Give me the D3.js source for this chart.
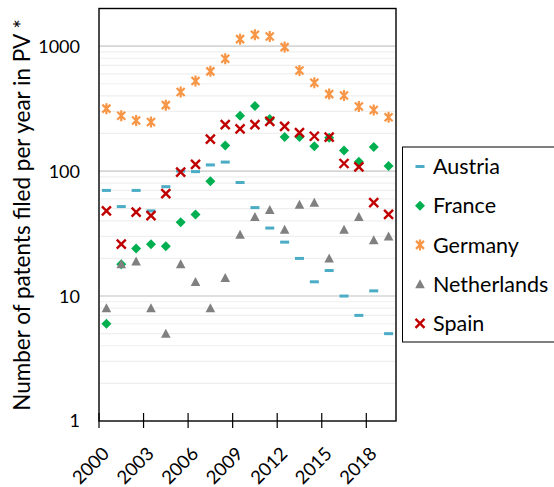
<!DOCTYPE html>
<html>
<head>
<meta charset="utf-8">
<script src="https://cdn.jsdelivr.net/npm/d3@7"></script>
<style>
  html, body { margin: 0; padding: 0; background: #fff; }
  svg { display: block; font-family: Lato, "Open Sans", sans-serif; }
</style>
</head>
<body>
<svg id="chart" width="554" height="487"></svg>
<script>
// Patents filed per year in photovoltaics, by country (log scale)
const years = d3.range(2000, 2020);
const tickYears = [2000, 2003, 2006, 2009, 2012, 2015, 2018];
const yTickValues = [1, 10, 100, 1000];

const austria     = [70, 52, 70, 48, 75, 100, 99, 112, 118, 81, 51, 35, 27, 20, 13, 16, 10, 7, 11, 5];
const france      = [6, 18, 24, 26, 25, 39, 45, 83, 160, 277, 331, 261, 187, 187, 158, 185, 146, 119, 156, 110];
const germany     = [316, 277, 254, 247, 337, 429, 525, 628, 793, 1137, 1233, 1196, 982, 639, 509, 413, 403, 329, 308, 270];
const netherlands = [8, 18, 19, 8, 5, 18, 13, 8, 14, 31, 43, 49, 34, 54, 56, 20, 34, 43, 28, 30];
const spain       = [48, 26, 47, 44, 66, 98, 113, 180, 235, 218, 235, 250, 228, 203, 190, 187, 115, 108, 56, 45];

const seriesNames = ["Austria", "France", "Germany", "Netherlands", "Spain"];
const seriesValues = [austria, france, germany, netherlands, spain];
const seriesColors = ["#4BACC6", "#00B050", "#F79646", "#808080", "#C00000"];

const svg = d3.select("#chart");
const plot = { left: 99, right: 396, top: 8.5, bottom: 421 };

const x = d3.scaleBand().domain(years).range([plot.left, plot.right]).paddingInner(0).paddingOuter(0);
const y = d3.scaleLog().domain([1, 2000]).range([plot.bottom, plot.top]);

// Gridlines: light minor lines for 2..9 of each decade, darker lines at the decades
const minor = [];
[1, 10, 100, 1000].forEach(d => { for (let m = 2; m <= 9; m++) { const v = d * m; if (v < 2000) minor.push(v); } });
svg.append("g").selectAll("line").data(minor).join("line")
  .attr("x1", plot.left).attr("x2", plot.right)
  .attr("y1", d => y(d)).attr("y2", d => y(d))
  .attr("stroke", "#efefef").attr("stroke-width", 1.2);
svg.append("g").selectAll("line").data([10, 100, 1000]).join("line")
  .attr("x1", plot.left).attr("x2", plot.right)
  .attr("y1", d => y(d)).attr("y2", d => y(d))
  .attr("stroke", "#d6d6d6").attr("stroke-width", 1.6);

// Markers
function drawMarker(g, name, color) {
  if (name === "Austria") {
    g.append("rect").attr("x", -4.5).attr("y", -1.5).attr("width", 9).attr("height", 3).attr("fill", color);
  } else if (name === "France") {
    g.append("path").attr("d", "M0,-5L5,0L0,5L-5,0Z").attr("fill", color);
  } else if (name === "Germany") {
    g.append("path").attr("d", "M-4,-4L4,4M-4,4L4,-4M0,-5.5L0,5.5")
      .attr("stroke", color).attr("stroke-width", 2.2).attr("fill", "none");
  } else if (name === "Netherlands") {
    g.append("path").attr("d", "M0,-4.8L4.8,4.2L-4.8,4.2Z").attr("fill", color);
  } else {
    g.append("path").attr("d", "M-4.5,-4.5L4.5,4.5M-4.5,4.5L4.5,-4.5")
      .attr("stroke", color).attr("stroke-width", 2.4).attr("fill", "none");
  }
}

const half = x.bandwidth() / 2;
seriesNames.forEach((name, si) => {
  const g = svg.append("g");
  seriesValues[si].forEach((v, i) => {
    const m = g.append("g").attr("transform", `translate(${x(years[i]) + half},${y(v)})`);
    drawMarker(m, name, seriesColors[si]);
  });
});

// Plot frame
svg.append("rect")
  .attr("x", plot.left).attr("y", plot.top)
  .attr("width", plot.right - plot.left).attr("height", plot.bottom - plot.top)
  .attr("fill", "none").attr("stroke", "#000").attr("stroke-width", 1.4);

// X axis: ticks between categories every three years, labels at the category
const xAxis = svg.append("g");
xAxis.selectAll("line").data(tickYears).join("line")
  .attr("x1", d => x(d)).attr("x2", d => x(d))
  .attr("y1", plot.bottom - 8).attr("y2", plot.bottom + 7)
  .attr("stroke", "#000").attr("stroke-width", 1.2);
xAxis.selectAll("text").data(tickYears).join("text")
  .attr("transform", d => `translate(${x(d) + half + 4},${plot.bottom + 34}) rotate(-45)`)
  .attr("text-anchor", "end")
  .attr("font-size", 18.5).attr("fill", "#000")
  .text(d => d);

// Y axis labels
svg.append("g").selectAll("text").data(yTickValues).join("text")
  .attr("x", 80).attr("y", d => y(d)).attr("dy", "0.36em")
  .attr("text-anchor", "end").attr("font-size", 18).attr("fill", "#000")
  .text(d => d);

// Y axis title
svg.append("text")
  .attr("transform", "translate(30,215) rotate(-90)")
  .attr("text-anchor", "middle").attr("font-size", 22.5).attr("fill", "#000")
  .text("Number of patents filed per year in PV *");

// Legend
const legend = svg.append("g");
legend.append("rect").attr("x", 402.5).attr("y", 147).attr("width", 200).attr("height", 195)
  .attr("fill", "#fff").attr("stroke", "#000").attr("stroke-width", 1);
seriesNames.forEach((name, i) => {
  const cy = 166.5 + i * 39.2;
  const m = legend.append("g").attr("transform", `translate(420,${cy})`);
  drawMarker(m, name, seriesColors[i]);
  legend.append("text").attr("x", 433).attr("y", cy).attr("dy", "0.36em")
    .attr("font-size", 21.5).attr("fill", "#000").text(name);
});
</script>
</body>
</html>
